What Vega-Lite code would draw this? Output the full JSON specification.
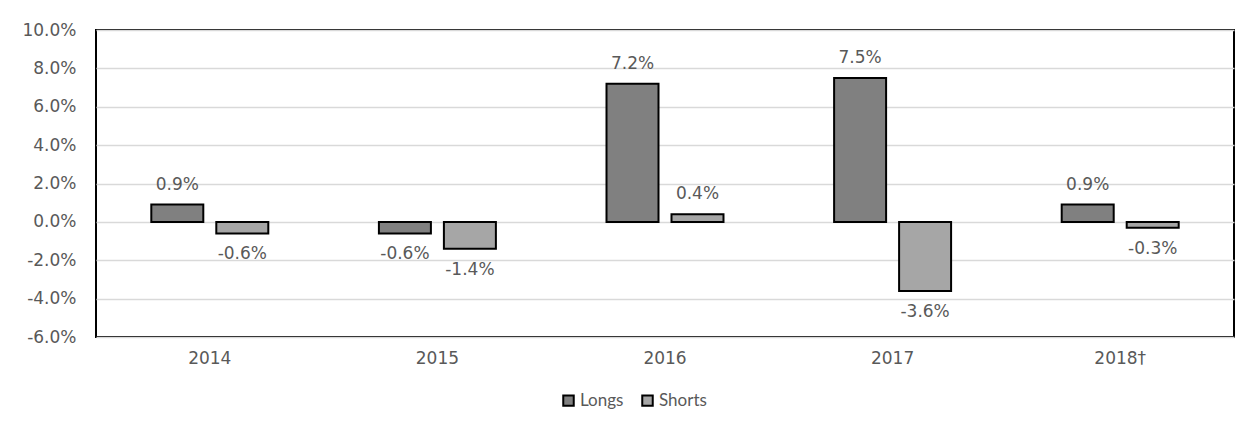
{
  "$schema": "https://vega.github.io/schema/vega-lite/v6.json",
  "autosize": {"type": "none"},
  "width": 1138,
  "height": 307,
  "padding": {"left": 96, "top": 30, "right": 24, "bottom": 88},
  "background": "white",
  "data": {
    "values": [
      {"year": "2014", "series": "Longs", "value": 0.009},
      {"year": "2014", "series": "Shorts", "value": -0.006},
      {"year": "2015", "series": "Longs", "value": -0.006},
      {"year": "2015", "series": "Shorts", "value": -0.014},
      {"year": "2016", "series": "Longs", "value": 0.072},
      {"year": "2016", "series": "Shorts", "value": 0.004},
      {"year": "2017", "series": "Longs", "value": 0.075},
      {"year": "2017", "series": "Shorts", "value": -0.036},
      {"year": "2018†", "series": "Longs", "value": 0.009},
      {"year": "2018†", "series": "Shorts", "value": -0.003}
    ]
  },
  "encoding": {
    "x": {
      "field": "year", "type": "nominal", "sort": null, "title": null,
      "scale": {"paddingInner": 0.486, "paddingOuter": 0.243},
      "axis": {"labelAngle": 0, "ticks": false, "domain": false, "labelPadding": 13,
               "labelFont": "DejaVu Sans", "labelFontSize": 17, "labelColor": "#595959"}
    },
    "xOffset": {"field": "series", "type": "nominal", "scale": {"paddingInner": 0.2, "paddingOuter": 0}},
    "y": {
      "field": "value", "type": "quantitative", "title": null,
      "scale": {"domain": [-0.06, 0.1], "nice": false, "zero": false},
      "axis": {"values": [-0.06, -0.04, -0.02, 0, 0.02, 0.04, 0.06, 0.08, 0.1], "format": ".1%",
               "ticks": false, "domain": false, "labelPadding": 20,
               "labelFont": "DejaVu Sans", "labelFontSize": 17, "labelColor": "#595959",
               "gridColor": "#D9D9D9", "gridWidth": 1.5}
    }
  },
  "layer": [
    {
      "mark": {"type": "bar", "stroke": "black", "strokeWidth": 2},
      "encoding": {
        "color": {
          "field": "series", "type": "nominal", "title": null,
          "scale": {"domain": ["Longs", "Shorts"], "range": ["#808080", "#A6A6A6"]},
          "legend": {"orient": "none", "direction": "horizontal", "legendX": 464, "legendY": 362,
                     "symbolType": "square", "symbolSize": 110, "symbolStrokeColor": "black", "symbolStrokeWidth": 2,
                     "labelFont": "Lato", "labelFontSize": 17, "labelColor": "#595959", "columnPadding": 14, "labelOffset": 3}
        }
      }
    },
    {
      "transform": [{"filter": "datum.value >= 0"}],
      "mark": {"type": "text", "dy": -20, "baseline": "middle", "font": "DejaVu Sans", "fontSize": 17, "color": "#595959"},
      "encoding": {"text": {"field": "value", "type": "quantitative", "format": ".1%"}}
    },
    {
      "transform": [{"filter": "datum.value < 0"}],
      "mark": {"type": "text", "dy": 21, "baseline": "middle", "font": "DejaVu Sans", "fontSize": 17, "color": "#595959"},
      "encoding": {"text": {"field": "value", "type": "quantitative", "format": ".1%"}}
    }
  ],
  "config": {
    "view": {"stroke": "black", "strokeWidth": 2},
    "locale": {"number": {"decimal": ".", "thousands": ",", "grouping": [3], "currency": ["$", ""], "minus": "-"}}
  }
}
